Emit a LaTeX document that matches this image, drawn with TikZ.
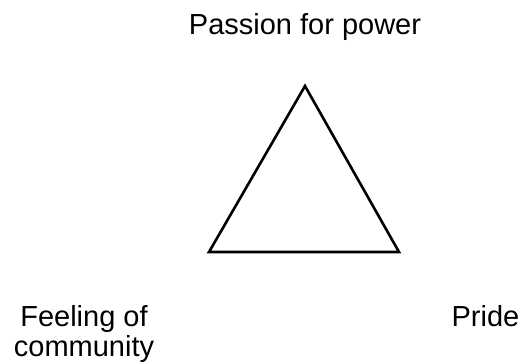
\documentclass[tikz,border=0pt]{standalone}
\usepackage{fontspec}
\setmainfont{Liberation Sans}
\begin{document}
\begin{tikzpicture}[x=1pt,y=1pt,
  lbl/.style={inner sep=0pt,font=\fontsize{29}{30}\selectfont,align=center},
  tri/.style={draw=black,line width=2.6pt,line join=miter}]
\useasboundingbox (0,0) rectangle (522,364);
\coordinate (apex) at (305,278);
\coordinate (bl) at (209,112);
\coordinate (br) at (399,112);
\draw[tri] (apex) -- (bl) -- (br) -- cycle;
\node[lbl,anchor=base] (power) at (305,329) {Passion for power};
\node[lbl,anchor=north] (community) at (84,59) {Feeling of\\community};
\node[lbl,anchor=base] (pride) at (485.5,37) {Pride};
\end{tikzpicture}
\end{document}
